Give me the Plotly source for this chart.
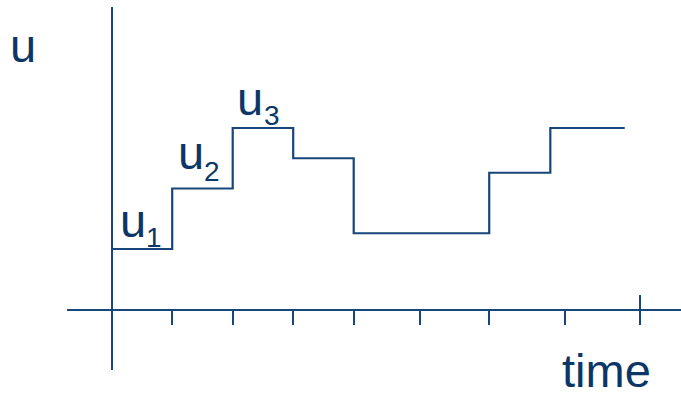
import plotly.graph_objects as go

# ---- data (time units, u units) ----
step_times = [0, 1, 2, 3, 4, 6.24, 7.25, 8.48]
step_values = [1, 2, 3, 2.5, 1.26, 2.26, 3, 3]
tick_times = [1, 2, 3, 4, 5.10, 6.24, 7.49, 8.74]
end_tick = [8.74]
y_label = "u"
x_label = "time"
level_labels = ["1", "2", "3"]

LINE = "#17467a"
TEXT = "#0b3768"

W, H = 681, 393
ML, MR, MT, MB = 67, 0, 7, 23
PX = 60.5  # pixels per unit
X0 = -(111.7 - ML) / PX
X1 = X0 + (W - ML - MR) / PX
Y0, Y1 = -1, 5


def dx(px):
    return (px - 111.7) / PX


def dy(py):
    return (MT + Y1 * PX - py) / PX


def paper_x(px):
    return (px - ML) / (W - ML - MR)


def paper_y(py):
    return (H - MB - py) / (H - MT - MB)


fig = go.Figure()
fig.add_trace(go.Scatter(
    x=step_times, y=step_values, mode="lines",
    line=dict(shape="hv", color=LINE, width=2.2),
    hoverinfo="skip", showlegend=False,
))
# invisible trace on second x axis so it renders
fig.add_trace(go.Scatter(x=end_tick, y=[0], xaxis="x2", mode="markers",
                         marker=dict(opacity=0), showlegend=False, hoverinfo="skip"))

fig.update_layout(
    width=W, height=H,
    margin=dict(l=ML, r=MR, t=MT, b=MB),
    paper_bgcolor="white", plot_bgcolor="white",
    xaxis=dict(range=[X0, X1], anchor="free", position=(0 - Y0) / (Y1 - Y0),
               showgrid=False, showline=False, zeroline=True,
               zerolinecolor=LINE, zerolinewidth=2,
               tickmode="array", tickvals=tick_times, showticklabels=False,
               ticks="outside", ticklen=14, tickwidth=2, tickcolor=LINE),
    xaxis2=dict(range=[X0, X1], overlaying="x", anchor="free",
                position=(0 - Y0) / (Y1 - Y0), side="bottom",
                showgrid=False, showline=False, zeroline=False,
                tickmode="array", tickvals=end_tick, showticklabels=False,
                ticks="inside", ticklen=15, tickwidth=2, tickcolor=LINE),
    yaxis=dict(range=[Y0, Y1], showgrid=False, showline=False,
               zeroline=True, zerolinecolor=LINE, zerolinewidth=2,
               showticklabels=False, ticks=""),
)

FONT = "Liberation Sans, Arial, sans-serif"
big = dict(family=FONT, size=47, color=TEXT)
small = dict(family=FONT, size=28, color=TEXT)

# axis labels
fig.add_annotation(x=paper_x(23), y=paper_y(46), xref="paper", yref="paper",
                   text=y_label, showarrow=False, font=big,
                   xanchor="center", yanchor="middle")
fig.add_annotation(x=paper_x(606.5), y=paper_y(370), xref="paper", yref="paper",
                   text=x_label, showarrow=False, font=big, borderpad=0,
                   xanchor="center", yanchor="middle")

# level labels u1, u2, u3
u_pos = [(132.5, 220), (190.5, 152), (249.5, 98.5)]
d_pos = [(154, 237.3), (211.5, 171.5), (271.5, 115.5)]
for lab, (ux, uy), (sx, sy) in zip(level_labels, u_pos, d_pos):
    fig.add_annotation(x=dx(ux), y=dy(uy), text="u", showarrow=False, font=big,
                       xanchor="center", yanchor="middle")
    fig.add_annotation(x=dx(sx), y=dy(sy), text=lab, showarrow=False, font=small,
                       xanchor="center", yanchor="middle")

fig.write_html("out.html", config={"displayModeBar": False},
               post_script="document.body.style.margin='0';document.body.style.overflow='hidden';")
